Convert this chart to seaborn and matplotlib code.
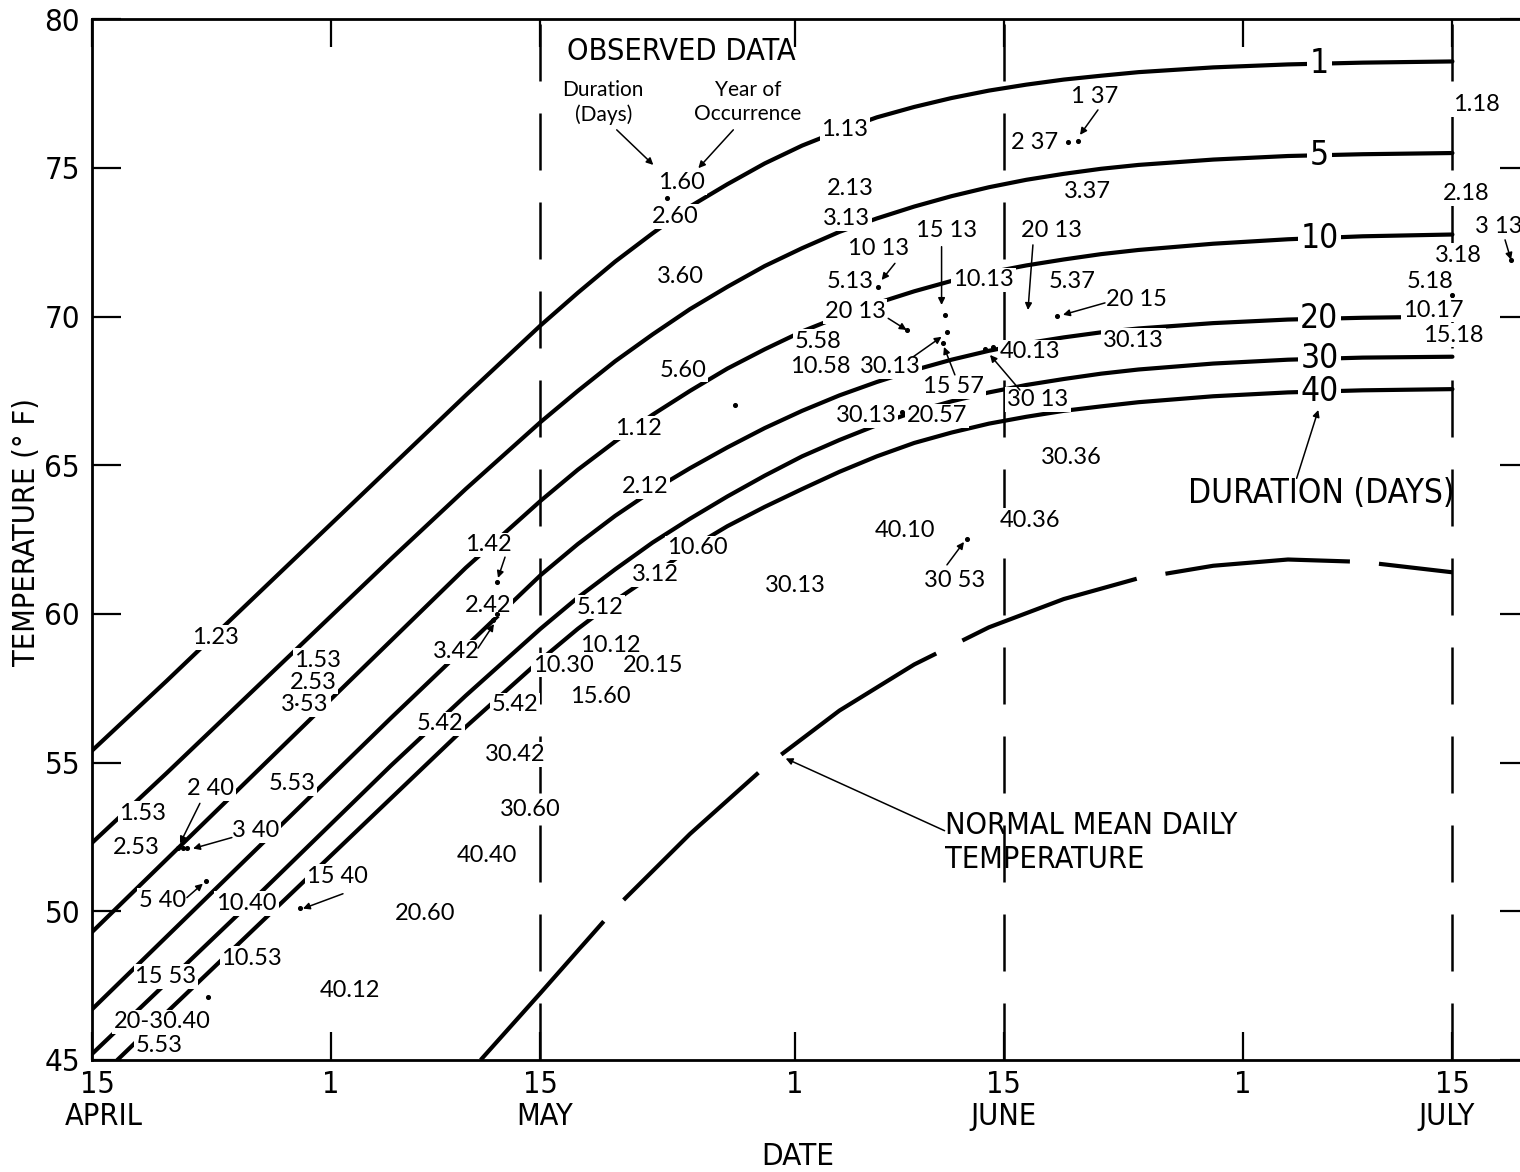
import numpy as np
import seaborn as sns
import matplotlib
matplotlib.use("Agg")
import matplotlib.pyplot as plt
from matplotlib import font_manager
from matplotlib.font_manager import FontProperties
from matplotlib.transforms import ScaledTranslation

# x values are days counted from April 15
days = [0, 5, 10, 15, 20, 25, 30, 32.5, 35, 37.5, 40, 42.5, 45, 47.5, 50, 52.5, 55,
        57.5, 60, 62.5, 65, 67.5, 70, 75, 80, 85, 91]
days_40 = [1.7] + days[1:]

dur_1 = [55.4, 57.75, 60.15, 62.55, 64.95, 67.35, 69.7, 70.8, 71.85, 72.8, 73.7, 74.45, 75.15,
         75.75, 76.25, 76.7, 77.05, 77.35, 77.6, 77.8, 77.97, 78.1, 78.22, 78.38, 78.48, 78.54, 78.58]
dur_5 = [52.3, 54.65, 57.05, 59.45, 61.85, 64.2, 66.45, 67.5, 68.5, 69.4, 70.25, 71.0, 71.7,
         72.3, 72.85, 73.3, 73.7, 74.05, 74.35, 74.6, 74.8, 74.97, 75.1, 75.28, 75.4, 75.46, 75.5]
dur_10 = [49.3, 51.75, 54.2, 56.65, 59.1, 61.55, 63.8, 64.85, 65.8, 66.7, 67.5, 68.25, 68.9,
          69.5, 70.0, 70.45, 70.85, 71.2, 71.48, 71.72, 71.92, 72.1, 72.24, 72.45, 72.6, 72.7, 72.76]
dur_20 = [46.7, 49.15, 51.6, 54.05, 56.5, 58.9, 61.3, 62.35, 63.3, 64.15, 64.9, 65.6, 66.25,
          66.83, 67.35, 67.8, 68.2, 68.55, 68.85, 69.1, 69.3, 69.47, 69.6, 69.78, 69.9, 69.96, 70.0]
dur_30 = [45.2, 47.6, 50.0, 52.45, 54.9, 57.25, 59.5, 60.55, 61.5, 62.4, 63.2, 63.95, 64.65,
          65.3, 65.85, 66.35, 66.8, 67.15, 67.45, 67.7, 67.9, 68.08, 68.22, 68.42, 68.55, 68.62, 68.65]
dur_40 = [45.0, 46.6, 49.0, 51.4, 53.8, 56.2, 58.45, 59.5, 60.45, 61.3, 62.2, 62.95, 63.6,
          64.2, 64.78, 65.3, 65.75, 66.1, 66.4, 66.63, 66.83, 66.98, 67.12, 67.32, 67.45, 67.52, 67.56]

curve_names = ['1', '5', '10', '20', '30', '40']
curve_days = [days, days, days, days, days, days_40]
curve_vals = [dur_1, dur_5, dur_10, dur_20, dur_30, dur_40]
label_day = 82.1

normal_days = [26, 30, 35, 40, 45, 50, 55, 60, 65, 70, 75, 80, 85, 91]
normal_temp = [45.0, 47.25, 50.1, 52.6, 54.85, 56.75, 58.3, 59.55, 60.5, 61.2, 61.62, 61.83, 61.75, 61.4]

tick_days = [0, 16, 30, 47, 61, 77, 91]
tick_labels = ['15', '1', '15', '1', '15', '1', '15']
month_names = ['APRIL', 'MAY', 'JUNE', 'JULY']
month_days = [0.8, 30.3, 61.0, 90.6]
month_mid = [30, 61, 91]

# observed data: duration.year labels
obs_labels = [
    ("1.60", 39.44, 74.50), ("2.60", 38.99, 73.36), ("1.13", 50.37, 76.28),
    ("2.13", 50.70, 74.32), ("3.13", 50.48, 73.31), ("15 13", 57.17, 72.91),
    ("10 13", 52.60, 72.30), ("3.60", 39.33, 71.34), ("5.13", 50.70, 71.17),
    ("10.13", 59.62, 71.23), ("20 13", 51.04, 70.16), ("5.58", 48.58, 69.16),
    ("10.58", 48.70, 68.31), ("30.13", 53.38, 68.31), ("15 57", 57.61, 67.64),
    ("40.13", 62.74, 68.81), ("30 13", 63.28, 67.20), ("30.13", 51.77, 66.66),
    ("20.57", 56.52, 66.66), ("1 37", 67.09, 77.39), ("2 37", 63.08, 75.87),
    ("3.37", 66.56, 74.19), ("20 13", 64.19, 72.91), ("5.37", 65.53, 71.17),
    ("20 15", 69.88, 70.56), ("30.13", 69.65, 69.21), ("1.18", 92.62, 77.12),
    ("2.18", 91.95, 74.15), ("3 13", 94.07, 73.02), ("3.18", 91.39, 72.07),
    ("5.18", 89.50, 71.17), ("10.17", 89.72, 70.22), ("15.18", 91.06, 69.38),
    ("30.36", 65.53, 65.27), ("40.36", 62.74, 63.14), ("40.10", 54.38, 62.79),
    ("30 53", 57.73, 61.14), ("30.13", 47.02, 60.97), ("1.12", 36.52, 66.25),
    ("2.12", 37.00, 64.27), ("5.60", 39.53, 68.20), ("10.60", 40.47, 62.22),
    ("3.12", 37.66, 61.31), ("5.12", 33.98, 60.23), ("10.12", 34.65, 58.95),
    ("10.30", 31.51, 58.28), ("20.15", 37.53, 58.28), ("15.60", 33.98, 57.21),
    ("1.42", 26.49, 62.32), ("2.42", 26.49, 60.30), ("3.42", 24.35, 58.72),
    ("5.42", 23.28, 56.30), ("5.42", 28.29, 56.94), ("30.42", 28.29, 55.26),
    ("30.60", 29.30, 53.41), ("40.40", 26.42, 51.88), ("1.23", 8.23, 59.22),
    ("1.53", 15.12, 58.45), ("2.53", 14.78, 57.71), ("3\u00b753", 14.25, 56.94),
    ("5.53", 13.38, 54.31), ("1.53", 3.41, 53.30), ("2.53", 2.94, 52.16),
    ("2 40", 7.94, 54.13), ("3 40", 10.93, 52.71), ("5 40", 4.72, 50.36),
    ("10.40", 10.33, 50.27), ("15 40", 16.42, 51.16), ("20.60", 22.27, 49.93),
    ("10.53", 10.69, 48.42), ("15 53", 4.95, 47.80), ("40.12", 17.26, 47.35),
    ("20-30.40", 4.72, 46.28), ("5.53", 4.48, 45.47),
]

obs_dots_day = [38.44, 52.60, 54.53, 57.06, 57.17, 56.94, 59.73, 60.27, 54.18, 65.28, 65.95,
                64.55, 94.92, 90.95, 58.53, 43.01, 27.09, 26.82, 27.09, 5.75, 6.09, 6.35,
                7.63, 13.91, 7.76]
obs_dots_temp = [73.98, 71.01, 69.55, 70.06, 69.49, 69.10, 68.91, 68.97, 66.79, 75.87, 75.91,
                 70.02, 71.91, 70.73, 62.52, 67.03, 61.07, 59.79, 59.99, 52.12, 52.12, 52.12,
                 51.03, 50.12, 47.11]

# arrows: (from day, from temp, to day, to temp)
arrows = [
    (35.10, 76.28, 37.55, 75.10), (42.90, 76.28, 40.56, 74.99), (53.71, 71.79, 52.82, 71.23),
    (53.26, 69.94, 54.49, 69.55), (56.83, 72.35, 56.83, 70.39), (54.94, 68.65, 56.83, 69.32),
    (57.72, 68.04, 56.99, 68.98), (62.07, 67.53, 60.07, 68.71), (67.29, 76.95, 66.09, 76.11),
    (62.94, 72.41, 62.61, 70.22), (67.76, 70.46, 64.95, 70.06), (94.52, 72.58, 94.92, 71.91),
    (80.58, 64.56, 82.03, 66.86), (57.19, 61.65, 58.33, 62.42), (27.63, 61.91, 27.16, 61.21),
    (25.82, 58.85, 26.89, 59.66), (7.22, 53.63, 5.89, 52.28), (9.36, 52.48, 6.76, 52.11),
    (6.35, 50.46, 7.42, 50.93), (16.79, 50.59, 14.11, 50.09), (57.03, 52.71, 46.40, 55.14),
]

sns.set_theme(style="white")
for key in ['text.color', 'axes.labelcolor', 'xtick.color', 'ytick.color']:
    plt.rcParams[key] = 'black'
plt.rcParams['font.family'] = ['DejaVu Sans']
small_font = ['Lato', 'DejaVu Sans']


def find_narrow():
    """ look for a condensed sans face for the axis lettering """
    fonts = font_manager.fontManager.ttflist
    def regular(f):
        return f.style == 'normal' and f.weight in (400, 'normal', 'regular')
    for f in fonts:
        if f.name == 'Liberation Sans Narrow' and regular(f):
            return f.fname
    for f in fonts:
        if f.name == 'DejaVu Sans' and 'condensed' in str(f.stretch) and regular(f):
            return f.fname
    for f in fonts:
        if 'Condensed' in f.name and regular(f):
            return f.fname
    return None


narrow_path = find_narrow()


def nfont(size):
    if narrow_path:
        p = FontProperties(fname=narrow_path)
    else:
        p = FontProperties(family=['Roboto', 'DejaVu Sans'])
    p.set_size(size)
    return p


fig = plt.figure(figsize=(15.2, 11.72), dpi=100)
fig.patch.set_facecolor('white')
ax = fig.add_axes([0.0605, 0.0956, 0.9454, 0.888])

for d_list, vals in zip(curve_days, curve_vals):
    sns.lineplot(x=d_list, y=vals, ax=ax, color='black', lw=3, zorder=2)

sns.lineplot(x=normal_days, y=normal_temp, ax=ax, color='black', lw=3,
             linestyle=(0, (44.5, 7)), zorder=2)

for d in month_mid:
    ax.axvline(d, color='black', lw=1.8, linestyle=(0, (22.8, 12.8)), zorder=1.5)

ax.set_xlim(0, 96.12)
ax.set_ylim(45, 80)
for s in ax.spines.values():
    s.set_color('black')
    s.set_linewidth(2)

ax.set_yticks(range(45, 81, 5))
ax.tick_params(axis='y', direction='in', length=21, width=1.6, left=True, right=True,
               pad=8.5, colors='black')
ax.set_xticks(tick_days)
ax.set_xticklabels(tick_labels)
ax.tick_params(axis='x', direction='in', length=20, width=1.6, top=True, bottom=True,
               pad=7, colors='black')
for lbl in ax.get_yticklabels():
    lbl.set_fontproperties(nfont(22.5))
for lbl in ax.get_xticklabels():
    lbl.set_fontproperties(nfont(22))
first = ax.get_xticklabels()[0]
first.set_transform(first.get_transform() + ScaledTranslation(0.05, 0, fig.dpi_scale_trans))

# month names under the day numbers
for name, d in zip(month_names, month_days):
    ax.text(d, -0.0548, name, transform=ax.get_xaxis_transform(), fontproperties=nfont(22),
            ha='center', va='center')

ax.set_xlabel('DATE', fontproperties=nfont(22.5), color='black')
ax.xaxis.set_label_coords(0.491, -0.0785)
ax.set_ylabel('TEMPERATURE (\u00b0 F)', fontproperties=nfont(22), color='black')
ax.yaxis.set_label_coords(-0.0355, 0.507)

box = dict(boxstyle='square,pad=0.08', fc='white', ec='none')

for name, d_list, vals in zip(curve_names, curve_days, curve_vals):
    ax.text(label_day, np.interp(label_day, d_list, vals), name, fontproperties=nfont(24),
            ha='center', va='center', bbox=box, zorder=4)

for txt, d, t in obs_labels:
    ax.text(d, t, txt, fontsize=17, family=small_font, ha='center', va='center',
            bbox=box, zorder=4)

ax.scatter(obs_dots_day, obs_dots_temp, s=7, color='black', zorder=5)

for x0, y0, x1, y1 in arrows:
    ax.annotate('', xy=(x1, y1), xytext=(x0, y0),
                arrowprops=dict(arrowstyle='-|>', color='black', lw=1.1,
                                mutation_scale=10, shrinkA=0, shrinkB=0), zorder=5)

ax.text(39.4, 78.90, 'OBSERVED DATA', fontproperties=nfont(22), ha='center', va='center', zorder=4)
ax.text(34.2, 77.2, 'Duration\n(Days)', fontsize=15, family=small_font,
        ha='center', va='center', linespacing=1.25, zorder=4)
ax.text(43.88, 77.2, 'Year of\nOccurrence', fontsize=15, family=small_font,
        ha='center', va='center', linespacing=1.25, zorder=4)
ax.text(82.25, 64.06, 'DURATION (DAYS)', fontproperties=nfont(24), ha='center', va='center', zorder=4)
ax.text(57.06, 52.32, 'NORMAL MEAN DAILY\nTEMPERATURE', fontproperties=nfont(22), ha='left',
        va='center', linespacing=1.2, zorder=4)

fig.savefig('out.png', dpi=100, facecolor='white')
